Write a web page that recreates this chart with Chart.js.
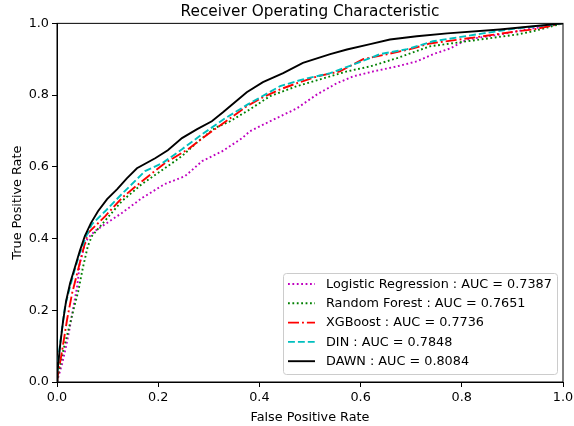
<!DOCTYPE html>
<html>
<head>
<meta charset="utf-8">
<script src="https://cdn.jsdelivr.net/npm/chart.js@4/dist/chart.umd.min.js"></script>
<style>
  body { margin: 0; background: #fff; }
  #wrap { width: 574px; height: 426px; }
</style>
</head>
<body>
<div id="wrap"><canvas id="rocChart" width="574" height="426"></canvas></div>
<script>
// ROC curves
const lrFpr = [0, 0.002, 0.010, 0.018, 0.024, 0.032, 0.040, 0.045, 0.055, 0.061, 0.075, 0.095, 0.128, 0.168, 0.213, 0.253, 0.287, 0.326, 0.366, 0.381, 0.421, 0.474, 0.514, 0.553, 0.585, 0.625, 0.672, 0.711, 0.743, 0.777, 0.810, 0.875, 0.941, 1];
const lrTpr = [0, 0.011, 0.050, 0.100, 0.142, 0.206, 0.267, 0.331, 0.384, 0.401, 0.421, 0.440, 0.471, 0.513, 0.552, 0.574, 0.616, 0.643, 0.680, 0.699, 0.727, 0.763, 0.802, 0.833, 0.852, 0.866, 0.880, 0.894, 0.914, 0.930, 0.955, 0.969, 0.986, 1];

const rfFpr = [0, 0.004, 0.012, 0.022, 0.032, 0.042, 0.051, 0.061, 0.069, 0.089, 0.128, 0.168, 0.213, 0.247, 0.279, 0.312, 0.342, 0.381, 0.421, 0.474, 0.520, 0.573, 0.619, 0.672, 0.737, 0.810, 0.909, 0.941, 1];
const rfTpr = [0, 0.031, 0.086, 0.142, 0.198, 0.253, 0.318, 0.379, 0.407, 0.440, 0.504, 0.552, 0.596, 0.630, 0.671, 0.708, 0.727, 0.760, 0.797, 0.825, 0.844, 0.866, 0.880, 0.903, 0.936, 0.950, 0.969, 0.978, 1];

const xgbFpr = [0, 0.002, 0.010, 0.020, 0.030, 0.042, 0.053, 0.061, 0.077, 0.095, 0.128, 0.168, 0.213, 0.259, 0.298, 0.342, 0.375, 0.407, 0.441, 0.474, 0.514, 0.559, 0.605, 0.652, 0.698, 0.737, 0.842, 0.909, 0.941, 1];
const xgbTpr = [0, 0.022, 0.086, 0.175, 0.248, 0.315, 0.376, 0.415, 0.437, 0.462, 0.513, 0.560, 0.610, 0.649, 0.691, 0.735, 0.769, 0.794, 0.816, 0.833, 0.852, 0.866, 0.900, 0.914, 0.928, 0.944, 0.964, 0.978, 0.983, 1];

const dinFpr = [0, 0.002, 0.008, 0.016, 0.026, 0.036, 0.045, 0.057, 0.069, 0.095, 0.128, 0.174, 0.208, 0.247, 0.287, 0.332, 0.377, 0.441, 0.486, 0.540, 0.593, 0.638, 0.692, 0.743, 0.842, 0.909, 1];
const dinTpr = [0, 0.058, 0.128, 0.212, 0.267, 0.318, 0.359, 0.404, 0.440, 0.476, 0.524, 0.588, 0.610, 0.649, 0.691, 0.735, 0.774, 0.825, 0.844, 0.861, 0.889, 0.914, 0.928, 0.950, 0.972, 0.986, 1];

const dawnFpr = [0, 0.001, 0.006, 0.012, 0.018, 0.026, 0.036, 0.045, 0.055, 0.067, 0.081, 0.099, 0.119, 0.138, 0.158, 0.194, 0.219, 0.247, 0.277, 0.306, 0.328, 0.348, 0.375, 0.407, 0.447, 0.486, 0.540, 0.573, 0.619, 0.658, 0.711, 0.771, 0.875, 0.941, 1];
const dawnTpr = [0, 0.030, 0.100, 0.170, 0.226, 0.276, 0.323, 0.365, 0.407, 0.443, 0.476, 0.510, 0.538, 0.568, 0.596, 0.624, 0.646, 0.680, 0.705, 0.727, 0.752, 0.776, 0.808, 0.836, 0.861, 0.890, 0.914, 0.927, 0.942, 0.955, 0.964, 0.972, 0.983, 0.992, 1];

const modelNames = ['Logistic Regression', 'Random Forest', 'XGBoost', 'DIN', 'DAWN'];
const aucValues = ['0.7387', '0.7651', '0.7736', '0.7848', '0.8084'];
const axisTicks = [0, 0.2, 0.4, 0.6, 0.8, 1.0];

const FONT = 'DejaVu Sans';

const series = [
  { fpr: lrFpr, tpr: lrTpr, color: '#bf00bf', dash: [1.8, 2.6] },
  { fpr: rfFpr, tpr: rfTpr, color: '#008000', dash: [1.8, 2.6] },
  { fpr: xgbFpr, tpr: xgbTpr, color: '#ff0000', dash: [11, 3, 1.9, 3] },
  { fpr: dinFpr, tpr: dinTpr, color: '#00bfbf', dash: [6.9, 3] },
  { fpr: dawnFpr, tpr: dawnTpr, color: '#000000', dash: [] }
];

const datasets = series.map((s, i) => ({
  label: modelNames[i] + ' : AUC = ' + aucValues[i],
  data: s.fpr.map((x, j) => ({ x: x, y: s.tpr[j] })),
  borderColor: s.color,
  borderWidth: 1.9,
  borderDash: s.dash,
  pointRadius: 0,
  tension: 0,
  fill: false,
  order: series.length - i
}));

// top/right spines + legend inside the axes
const framePlugin = {
  id: 'frame',
  afterDraw(chart) {
    const { ctx, chartArea: a } = chart;
    ctx.save();
    ctx.strokeStyle = '#000';
    ctx.lineWidth = 1;
    ctx.strokeRect(a.left, a.top, a.right - a.left, a.bottom - a.top);

    // legend box
    const bx = 283.5, by = 273.5, bw = 274, bh = 101, r = 3;
    ctx.beginPath();
    ctx.moveTo(bx + r, by);
    ctx.arcTo(bx + bw, by, bx + bw, by + bh, r);
    ctx.arcTo(bx + bw, by + bh, bx, by + bh, r);
    ctx.arcTo(bx, by + bh, bx, by, r);
    ctx.arcTo(bx, by, bx + bw, by, r);
    ctx.closePath();
    ctx.fillStyle = 'rgba(255,255,255,0.8)';
    ctx.fill();
    ctx.strokeStyle = '#cccccc';
    ctx.stroke();

    ctx.font = '12.8px "' + FONT + '"';
    ctx.textBaseline = 'middle';
    ctx.textAlign = 'left';
    chart.data.datasets.forEach((ds, i) => {
      const y = 284 + i * 19.3;
      ctx.beginPath();
      ctx.setLineDash(ds.borderDash);
      ctx.strokeStyle = ds.borderColor;
      ctx.lineWidth = ds.borderWidth;
      ctx.moveTo(288, y);
      ctx.lineTo(315, y);
      ctx.stroke();
      ctx.setLineDash([]);
      ctx.fillStyle = '#000';
      ctx.fillText(ds.label, 326, y + 0.5);
    });
    ctx.restore();
  }
};

function axisOptions(titleText, titlePadding, fitSize) {
  return {
    type: 'linear',
    min: 0,
    max: 1,
    afterBuildTicks: (scale) => {
      scale.ticks = axisTicks.map(v => ({ value: v }));
    },
    afterFit: fitSize,
    ticks: {
      color: '#000',
      font: { family: FONT, size: 12.8 },
      padding: 3,
      maxRotation: 0,
      callback: (v) => Number(v).toFixed(1)
    },
    grid: {
      drawOnChartArea: false,
      drawTicks: true,
      tickLength: 5,
      color: '#000'
    },
    border: { display: true, color: '#000', width: 1 },
    title: {
      display: true,
      text: titleText,
      color: '#000',
      font: { family: FONT, size: 12.8 },
      padding: titlePadding
    }
  };
}

const ctx = document.getElementById('rocChart').getContext('2d');
new Chart(ctx, {
  type: 'line',
  data: { datasets: datasets },
  options: {
    responsive: false,
    animation: false,
    layout: { padding: { left: 0, right: 11, top: 0, bottom: 0 } },
    plugins: {
      legend: { display: false },
      tooltip: { enabled: false },
      title: {
        display: true,
        fullSize: false,
        text: 'Receiver Operating Characteristic',
        color: '#000',
        font: { family: FONT, size: 15.3, weight: 'normal' },
        padding: { top: 3, bottom: 2 }
      }
    },
    scales: {
      x: axisOptions('False Positive Rate', { top: 0, bottom: 1 }, (s) => {
        s.height = 44;
        s.paddingLeft = 0;
        s.paddingRight = 0;
      }),
      y: axisOptions('True Positive Rate', { top: 10, bottom: 0 }, (s) => {
        s.width = 57;
        s.paddingTop = 0;
        s.paddingBottom = 0;
      })
    }
  },
  plugins: [framePlugin]
});
</script>
</body>
</html>
